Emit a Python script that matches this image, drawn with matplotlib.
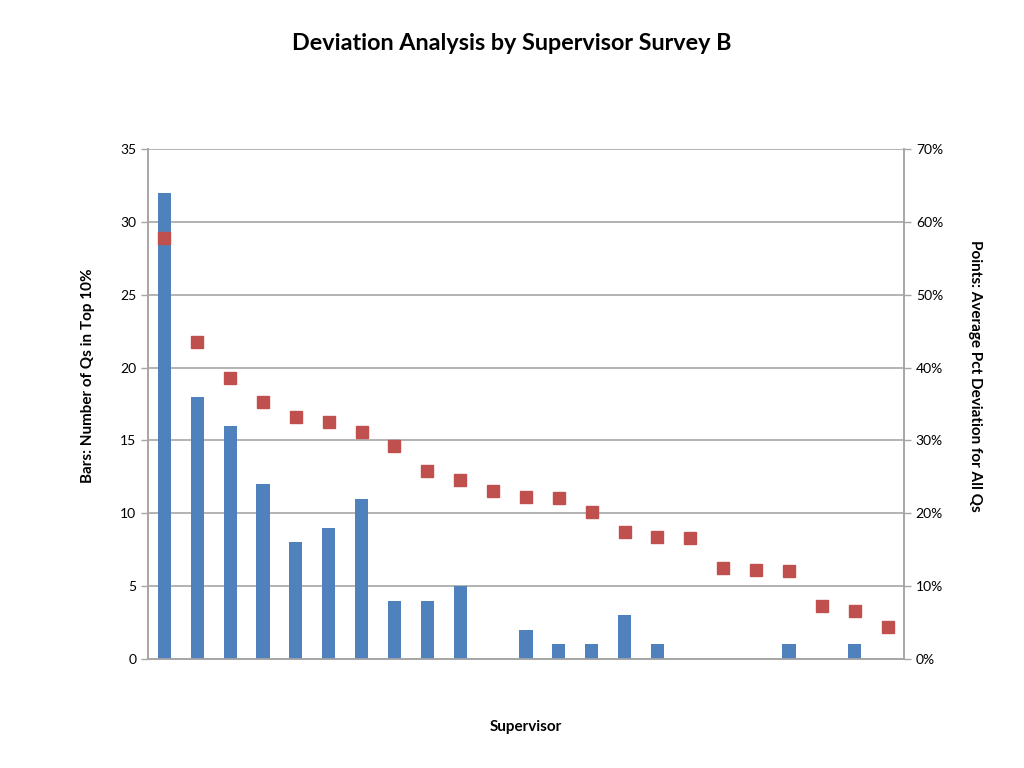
import numpy as np
import matplotlib.pyplot as plt
from matplotlib.ticker import FuncFormatter

# data
top10_counts = [32, 18, 16, 12, 8, 9, 11, 4, 4, 5, 0, 2, 1, 1, 3, 1, 0, 0, 0, 1, 0, 1, 0]
avg_deviation = [57.8, 43.5, 38.6, 35.3, 33.2, 32.5, 31.2, 29.2, 25.8, 24.6, 23.1, 22.2,
                 22.1, 20.2, 17.4, 16.7, 16.6, 12.5, 12.2, 12.1, 7.3, 6.6, 4.4]

plt.rcParams['font.family'] = ['Lato', 'DejaVu Sans']
grid_col = '#A6A6A6'

fig = plt.figure(figsize=(10.24, 7.68), dpi=100)
ax = fig.add_axes([0.1445, 0.142, 0.7383, 0.664])
ax2 = ax.twinx()

x = np.arange(len(top10_counts))
ax.bar(x, top10_counts, width=0.4, color='#4F81BD', zorder=3)
ax2.plot(x, avg_deviation, 's', color='#C0504D', markersize=8, zorder=4)

ax.set_xlim(-0.5, len(x) - 0.5)
ax.set_ylim(0, 35)
ax.set_yticks(range(0, 36, 5))
ax2.set_ylim(0, 70)
ax2.set_yticks(range(0, 71, 10))
ax2.yaxis.set_major_formatter(FuncFormatter(lambda v, p: '%d%%' % v))

ax.yaxis.grid(True, color=grid_col, linewidth=1.2, zorder=0)
ax.set_axisbelow(True)
ax.set_xticks([])
ax.tick_params(axis='y', colors=grid_col, labelcolor='black', labelsize=10, length=5, width=1)
ax2.tick_params(axis='y', colors=grid_col, labelcolor='black', labelsize=10, length=5, width=1)

for a in (ax, ax2):
    a.spines['top'].set_visible(False)
    for s in ('left', 'right', 'bottom'):
        a.spines[s].set_color(grid_col)
        a.spines[s].set_linewidth(1.2)

ax.set_ylabel('Bars: Number of Qs in Top 10%', fontsize=11, fontweight='bold', labelpad=18)
ax2.set_ylabel('Points: Average Pct Deviation for All Qs', fontsize=11, fontweight='bold',
               rotation=270, labelpad=28)
ax.yaxis.label.set_y(0.555)
ax2.yaxis.label.set_y(0.555)
ax.set_xlabel('Supervisor', fontsize=11, fontweight='bold', labelpad=44)

fig.suptitle('Deviation Analysis by Supervisor Survey B', fontsize=16.8, fontweight='bold', y=0.957)

plt.savefig('out.png')
